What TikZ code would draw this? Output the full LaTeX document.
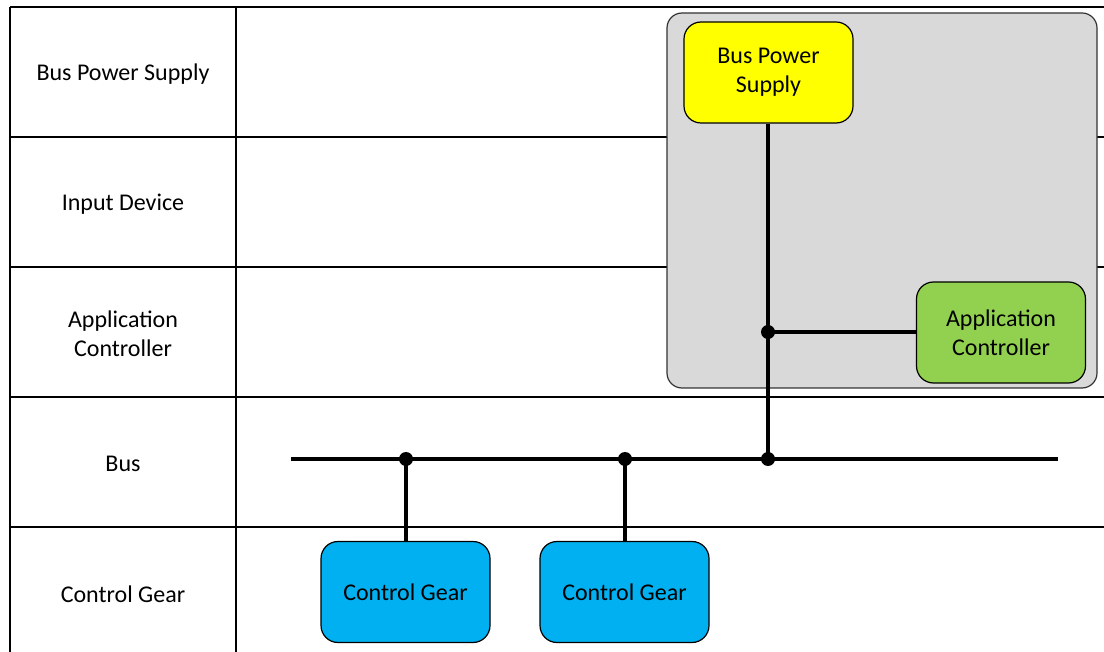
\documentclass[tikz,border=0pt]{standalone}
\usepackage{fontspec}
\setmainfont{Carlito}
\usetikzlibrary{positioning}
\definecolor{psuyellow}{HTML}{FFFF00}
\definecolor{ctrlgreen}{HTML}{92D050}
\definecolor{gearblue}{HTML}{00B0F0}
\definecolor{groupgray}{HTML}{D9D9D9}

\begin{document}
\begin{tikzpicture}[
  x=1pt,y=-1pt,
  font=\fontsize{24}{29}\selectfont,
  grid/.style={line width=1.4pt,black},
  rowlabel/.style={align=center,yshift=-2pt},
  device/.style={draw,line width=1.2pt,rounded corners=17pt,align=center,
                 minimum width=169pt,minimum height=101pt,inner sep=0pt},
  group/.style={draw=black!80,line width=1.2pt,rounded corners=15pt,fill=groupgray},
  wire/.style={line width=3.8pt,black},
  joint/.style={circle,fill=black,inner sep=0pt,minimum size=14pt}
]
\useasboundingbox (0,0) rectangle (1104,652);

% table
\foreach \y in {7,137,267,397,527}
  \draw[grid] (10,\y) -- (1104,\y);
\draw[grid] (10,7) -- (10,652);
\draw[grid] (236,7) -- (236,652);

\node[rowlabel] (lpsu) at (123,72) {Bus Power Supply};
\node[rowlabel] (lin) at (123,202) {Input Device};
\node[rowlabel] (lapp) at (123,332) {Application\\Controller};
\node[rowlabel] (lbus) at (123,462) {Bus};
\node[rowlabel] (lgear) at (123,592) {Control Gear};

% grouped devices
\draw[group] (667,13) rectangle (1097,388);
\node[device,fill=psuyellow] (psu) at (768.5,72.5) {Bus Power\\Supply};
\node[device,fill=ctrlgreen] (app) at (1001,332.5) {Application\\Controller};

\node[device,fill=gearblue] (gear1) at (405.5,592) {Control Gear};
\node[device,fill=gearblue] (gear2) at (624.5,592) {Control Gear};

% bus
\coordinate (busl) at (291,459);
\coordinate (busr) at (1058,459);
\coordinate (j1) at (406,459);
\coordinate (j2) at (625,459);
\coordinate (j3) at (768,459);
\coordinate (j4) at (768,332);

\draw[wire] (busl) -- (busr);
\draw[wire] (psu.south -| j3) -- (j3);
\draw[wire] (j4) -- (j4 -| app.west);
\draw[wire] (j1) -- (gear1.north -| j1);
\draw[wire] (j2) -- (gear2.north -| j2);

\foreach \j in {j1,j2,j3,j4}
  \node[joint] at (\j) {};
\end{tikzpicture}
\end{document}
